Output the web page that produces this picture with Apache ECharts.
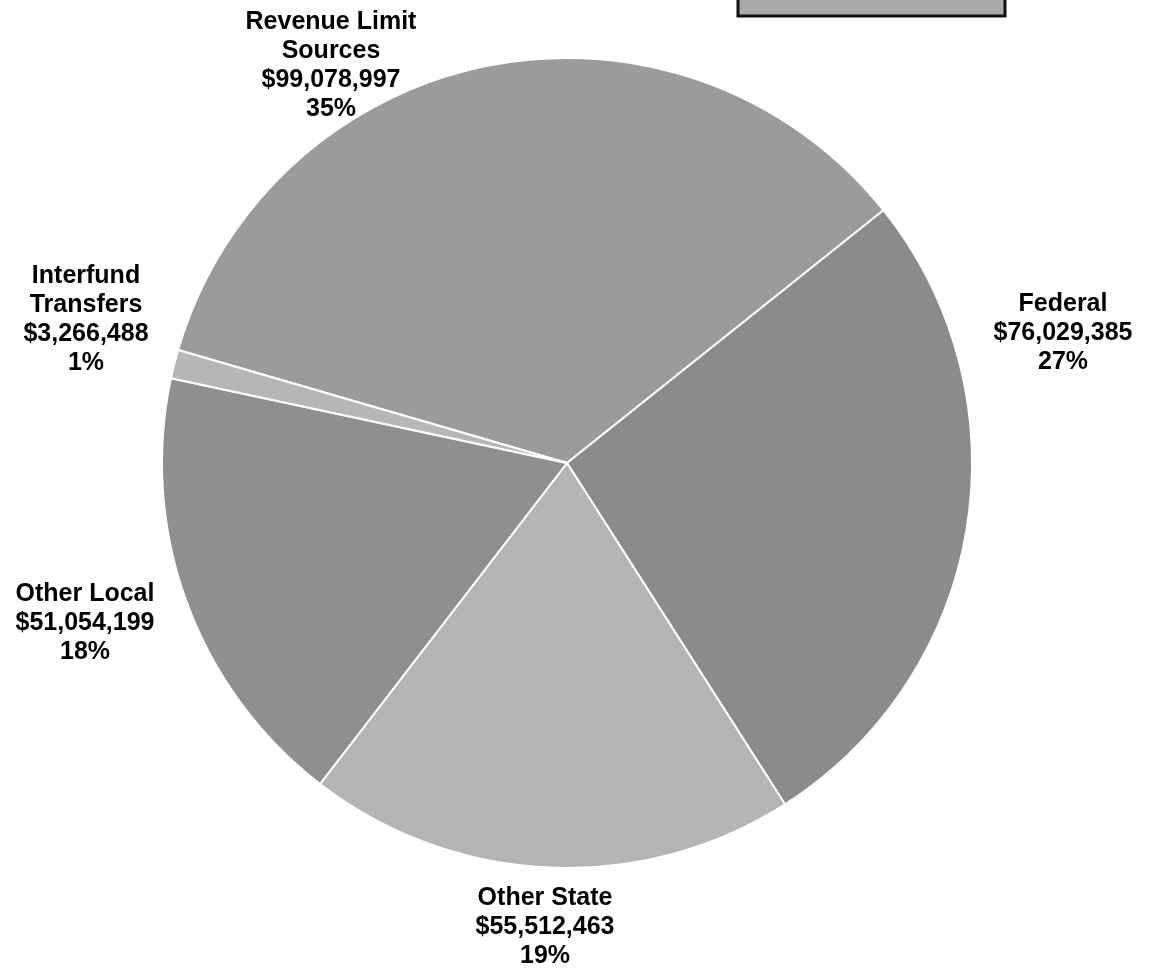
<!DOCTYPE html>
<html>
<head>
<meta charset="utf-8">
<title>Revenue Sources</title>
<script src="https://cdn.jsdelivr.net/npm/echarts@6/dist/echarts.min.js"></script>
<style>
  html, body { margin: 0; padding: 0; background: #ffffff; }
  #chart { width: 1164px; height: 972px; }
</style>
</head>
<body>
<div id="chart"></div>
<script>
// Revenue sources, in dollars
const categories = ['Revenue Limit\nSources', 'Federal', 'Other State', 'Other Local', 'Interfund\nTransfers'];
const amounts = [99078997, 76029385, 55512463, 51054199, 3266488];
const percentLabels = ['35%', '27%', '19%', '18%', '1%'];

// Slice shades
const sliceColors = ['#9b9b9b', '#8b8b8b', '#b4b4b4', '#8f8f8f', '#b6b6b6'];

// Label anchor points (centre of each text block), in pixels
const labelAnchors = [
  [331, 66],
  [1063, 333],
  [545, 927],
  [85, 623],
  [86, 320]
];

function money(v) {
  return '$' + v.toLocaleString('en-US');
}

const chart = echarts.init(document.getElementById('chart'), null, { renderer: 'canvas' });

chart.setOption({
  animation: false,
  backgroundColor: '#ffffff',
  graphic: [{
    type: 'rect',
    shape: { x: 738, y: -6, width: 267, height: 22 },
    style: { fill: '#a9a9a9', stroke: '#111111', lineWidth: 3 }
  }],
  series: [{
    type: 'pie',
    center: [567, 463],
    radius: [0, 405],
    startAngle: 163.8,
    clockwise: true,
    avoidLabelOverlap: false,
    data: categories.map((name, i) => ({
      name: name,
      value: amounts[i],
      itemStyle: { color: sliceColors[i] }
    })),
    itemStyle: { borderColor: '#ffffff', borderWidth: 2 },
    label: {
      show: true,
      position: 'outside',
      formatter: p => p.name + '\n' + money(p.value) + '\n' + percentLabels[p.dataIndex],
      fontFamily: 'Liberation Sans, Arial, sans-serif',
      fontWeight: 'bold',
      fontSize: 25,
      lineHeight: 29,
      color: '#000000',
      align: 'center'
    },
    labelLine: { show: false },
    labelLayout: params => ({
      x: labelAnchors[params.dataIndex][0],
      y: labelAnchors[params.dataIndex][1],
      align: 'center',
      verticalAlign: 'middle'
    }),
    emphasis: { disabled: true }
  }]
});
</script>
</body>
</html>
